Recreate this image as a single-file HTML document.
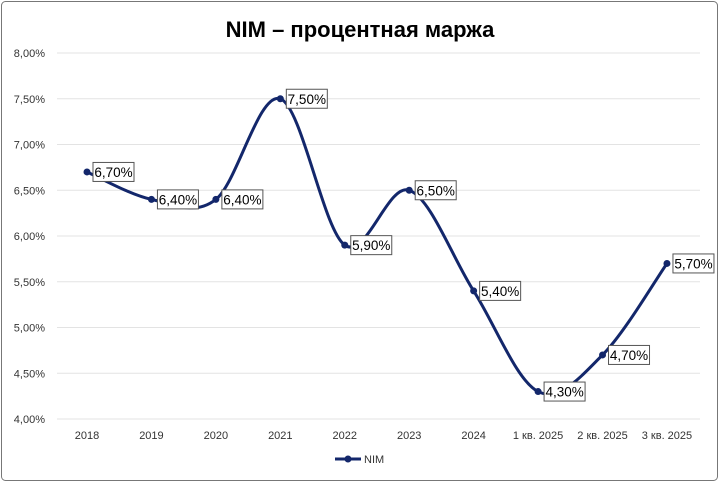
<!DOCTYPE html>
<html><head><meta charset="utf-8"><style>
body{margin:0;background:#fff}
svg{display:block;font-family:"Liberation Sans",Arial,sans-serif}
</style></head><body>
<svg id="s" width="720" height="483" viewBox="0 0 720 483">
<rect x="1.5" y="1.5" width="716" height="479" rx="4" fill="#fff" stroke="#777" stroke-width="1"/>
<text x="360" y="37" text-anchor="middle" font-size="22" font-weight="bold" fill="#000">NIM – процентная маржа</text>
<g id="g"></g>
</svg>
<script>
var g=document.getElementById('g'),h='';
var Y=function(v){return 53+(8-v)*91.5};
for(var i=0;i<=8;i++){var v=4+i*0.5,y=Y(v);
h+='<line x1="57" x2="700" y1="'+y+'" y2="'+y+'" stroke="#e3e3e3" stroke-width="1"/>';
h+='<text x="45" y="'+(y+4)+'" text-anchor="end" font-size="11" fill="#333">'+v.toFixed(2).replace('.',',')+'%</text>';}
var cats=['2018','2019','2020','2021','2022','2023','2024','1 кв. 2025','2 кв. 2025','3 кв. 2025'];
var vals=[6.7,6.4,6.4,7.5,5.9,6.5,5.4,4.3,4.7,5.7];
var P=[];
for(var i=0;i<10;i++){var x=87+64.44*i;P.push([x,Y(vals[i])]);
h+='<text x="'+x+'" y="439" text-anchor="middle" font-size="11" fill="#333">'+cats[i]+'</text>';}
var d='M'+P[0][0]+','+P[0][1];
for(var i=0;i<9;i++){var p0=P[Math.max(i-1,0)],p1=P[i],p2=P[i+1],p3=P[Math.min(i+2,9)];
d+=' C'+(p1[0]+(p2[0]-p0[0])/6)+','+(p1[1]+(p2[1]-p0[1])/6)+' '+(p2[0]-(p3[0]-p1[0])/6)+','+(p2[1]-(p3[1]-p1[1])/6)+' '+p2[0]+','+p2[1];}
h+='<path d="'+d+'" fill="none" stroke="#13276b" stroke-width="3"/>';
for(var i=0;i<10;i++){var x=P[i][0],y=P[i][1];
h+='<circle cx="'+x+'" cy="'+y+'" r="3.5" fill="#13276b"/>';
h+='<rect x="'+(x+6)+'" y="'+(y-9.5)+'" width="41" height="19" fill="#fff" stroke="#555" stroke-width="1"/>';
h+='<text x="'+(x+26.5)+'" y="'+(y+5)+'" text-anchor="middle" font-size="13.5" fill="#000">'+vals[i].toFixed(2).replace('.',',')+'%</text>';}
h+='<line x1="335" x2="361" y1="459" y2="459" stroke="#13276b" stroke-width="3"/><circle cx="348" cy="459" r="3.5" fill="#13276b"/>';
h+='<text x="364" y="463" font-size="11" fill="#333">NIM</text>';
g.innerHTML=h;
</script>
</body></html>
